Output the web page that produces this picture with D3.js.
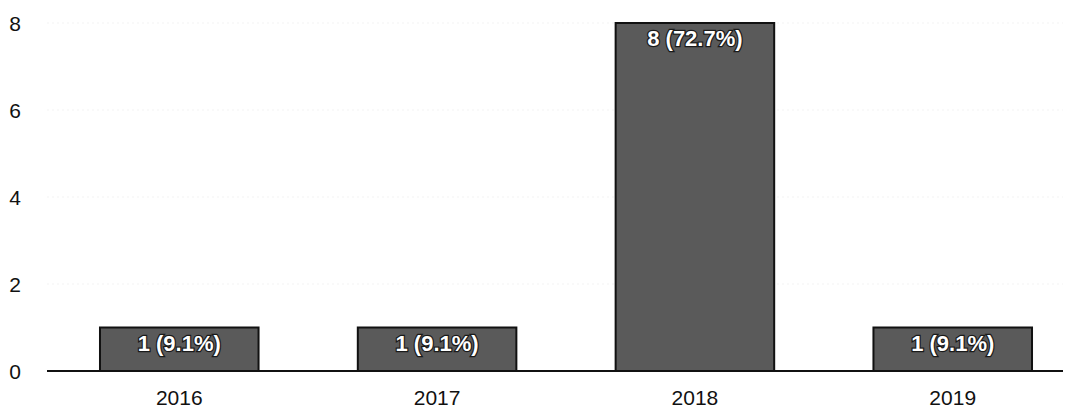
<!DOCTYPE html>
<html><head><meta charset="utf-8">
<script src="https://cdn.jsdelivr.net/npm/d3@7"></script>
<style>body{margin:0;background:#fff}svg{display:block}</style>
</head><body>
<svg id="c" width="1073" height="410"></svg>
<script>
const categories = ["2016", "2017", "2018", "2019"];
const values = [1, 1, 8, 1];
const labels = ["1 (9.1%)", "1 (9.1%)", "8 (72.7%)", "1 (9.1%)"];
const yTicks = [0, 2, 4, 6, 8];

const font = "'Liberation Sans', Arial, sans-serif";
const svg = d3.select("#c");
const x = d3.scaleBand().domain(categories).range([51, 1081]).paddingInner(0.385).paddingOuter(0.19);
const y = d3.scaleLinear().domain([0, 8]).range([371, 23]);

// faint grid
svg.append("g").selectAll("line").data(yTicks.slice(1)).join("line")
  .attr("x1", 47).attr("x2", 1063).attr("y1", d => y(d)).attr("y2", d => y(d))
  .attr("stroke", "#f3f3f3").attr("stroke-dasharray", "2,3");

// y tick labels
svg.append("g").selectAll("text").data(yTicks).join("text")
  .attr("x", 15).attr("y", d => y(d) + 8).attr("text-anchor", "middle")
  .style("font-family", font).style("font-size", "21px").attr("fill", "#111")
  .text(d => d);

// bars
svg.append("g").selectAll("rect").data(values).join("rect")
  .attr("x", (d, i) => x(categories[i])).attr("width", x.bandwidth())
  .attr("y", d => y(d)).attr("height", d => y(0) - y(d))
  .attr("fill", "#5a5a5a").attr("stroke", "#111").attr("stroke-width", 2);

// bar labels
svg.append("g").selectAll("text").data(values).join("text")
  .attr("x", (d, i) => x(categories[i]) + x.bandwidth() / 2)
  .attr("y", d => y(d) + 23).attr("text-anchor", "middle")
  .style("font-family", font).style("font-size", "22px").style("font-weight", "700")
  .attr("fill", "#fff").attr("stroke", "#1a1a1a").attr("stroke-width", 2.5)
  .style("paint-order", "stroke")
  .text((d, i) => labels[i]);

// baseline
svg.append("line").attr("x1", 47).attr("x2", 1063).attr("y1", y(0)).attr("y2", y(0))
  .attr("stroke", "#111").attr("stroke-width", 2);

// x tick labels
svg.append("g").selectAll("text").data(categories).join("text")
  .attr("x", d => x(d) + x.bandwidth() / 2).attr("y", 405).attr("text-anchor", "middle")
  .style("font-family", font).style("font-size", "21px").attr("fill", "#111")
  .text(d => d);
</script>
</body></html>
